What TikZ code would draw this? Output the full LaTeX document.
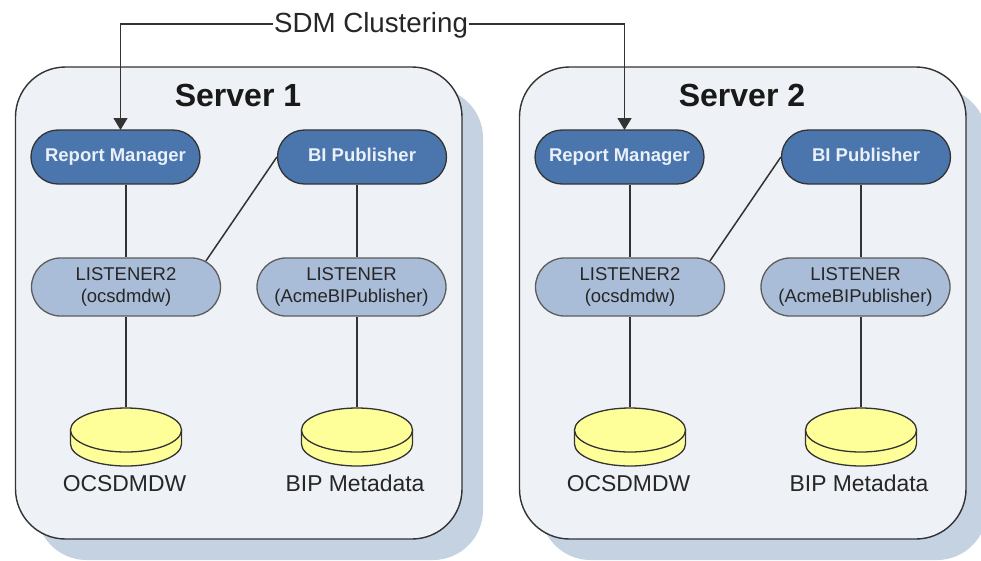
\documentclass[tikz,border=0pt]{standalone}
\usepackage{fontspec}
\setmainfont{Liberation Sans}
\usetikzlibrary{arrows.meta,shapes.misc,shapes.geometric}
\definecolor{shadowc}{HTML}{C5D2E2}
\definecolor{serverc}{HTML}{EEF1F6}
\definecolor{appc}{HTML}{4A76AD}
\definecolor{lisc}{HTML}{AABDD8}
\definecolor{diskc}{HTML}{FFFF99}
\definecolor{linec}{HTML}{333333}
\definecolor{textc}{HTML}{262626}
\definecolor{apptext}{HTML}{EAF0F7}
\tikzset{
  x=1pt,y=-1pt,
  conn/.style={draw=linec,line width=1.5pt},
  shadowbox/.style={fill=shadowc,rounded corners=50pt},
  serverbox/.style={draw=linec,line width=1.4pt,fill=serverc,rounded corners=50pt},
  servertitle/.style={font=\bfseries\fontsize{32}{34}\selectfont,text=black!90,inner sep=0pt},
  appnode/.style={rounded rectangle,draw=linec,line width=1.3pt,fill=appc,text=apptext,
    minimum width=169pt,minimum height=54pt,inner sep=0pt,text height=13pt,text depth=4pt,
    font=\bfseries\fontsize{18.5}{22}\selectfont},
  lisnode/.style={rounded rectangle,draw=linec!80,line width=1.3pt,fill=lisc,text=textc,
    minimum width=189pt,minimum height=58pt,inner sep=0pt,align=center,font=\fontsize{18.5}{22}\selectfont},
  disktop/.style={ellipse,draw=linec,line width=1.3pt,fill=diskc,minimum width=111pt,minimum height=44pt,inner sep=0pt},
  diskbody/.style={draw=linec,line width=1.3pt,fill=diskc},
  disklabel/.style={text=textc,inner sep=0pt,text height=16.5pt,text depth=0pt,font=\fontsize{22.9}{26}\selectfont},
  toplabel/.style={text=textc,inner sep=1pt,text height=20pt,text depth=4pt,font=\fontsize{27.7}{30}\selectfont},
}
\newcommand{\diskshape}[3]{%
  \path[diskbody] (#1-55.5,#2) -- (#1-55.5,#2+14) arc[start angle=180,end angle=0,x radius=55.5,y radius=22] -- (#1+55.5,#2) -- cycle;
  \node[disktop] (#3) at (#1,#2) {};
}
\begin{document}
\begin{tikzpicture}
\useasboundingbox (0,0) rectangle (981,560);
\clip (0,0) rectangle (981,560);
\fill[white] (0,0) rectangle (981,560);
\foreach \p/\o/\t in {a/0/1,b/504/2}{
  \begin{scope}[xshift=\o pt]
    \fill[shadowbox] (36.5,88) rectangle (483,560);
    \path[serverbox] (15.5,67) rectangle (462,539);
    \node[servertitle] (\p title) at (238,95.5) {Server \t};
    \node[appnode] (\p rm) at (115.5,157) {Report Manager};
    \node[appnode] (\p pub) at (362,157) {BI Publisher};
    \node[lisnode] (\p l2) at (126,287) {LISTENER2\\(ocsdmdw)};
    \node[lisnode] (\p lis) at (351.5,287) {LISTENER\\(AcmeBIPublisher)};
    \diskshape{126}{430}{\p d1}
    \diskshape{357}{430}{\p d2}
    \node[disklabel] (\p t1) at (124.5,483) {OCSDMDW};
    \node[disklabel] (\p t2) at (355,483) {BIP Metadata};
    \coordinate (\p in) at (120.5,130);
  \end{scope}
  \draw[conn] (\p l2.north |- \p rm.south) -- (\p l2.north);
  \draw[conn] (\p l2.south) -- (\p d1.north);
  \draw[conn] (\p d2.north |- \p pub.south) -- (\p d2.north |- \p lis.north);
  \draw[conn] (\p d2.north |- \p lis.south) -- (\p d2.north);
  \draw[conn] (\p pub.west) -- (\p l2.18);
}
\node[toplabel] (sdm) at (371,24) {SDM Clustering};
\draw[conn,-{Triangle[width=14pt,length=12pt]}] (sdm.west) -| (ain);
\draw[conn,-{Triangle[width=14pt,length=12pt]}] (sdm.east) -| (bin);
\end{tikzpicture}
\end{document}
